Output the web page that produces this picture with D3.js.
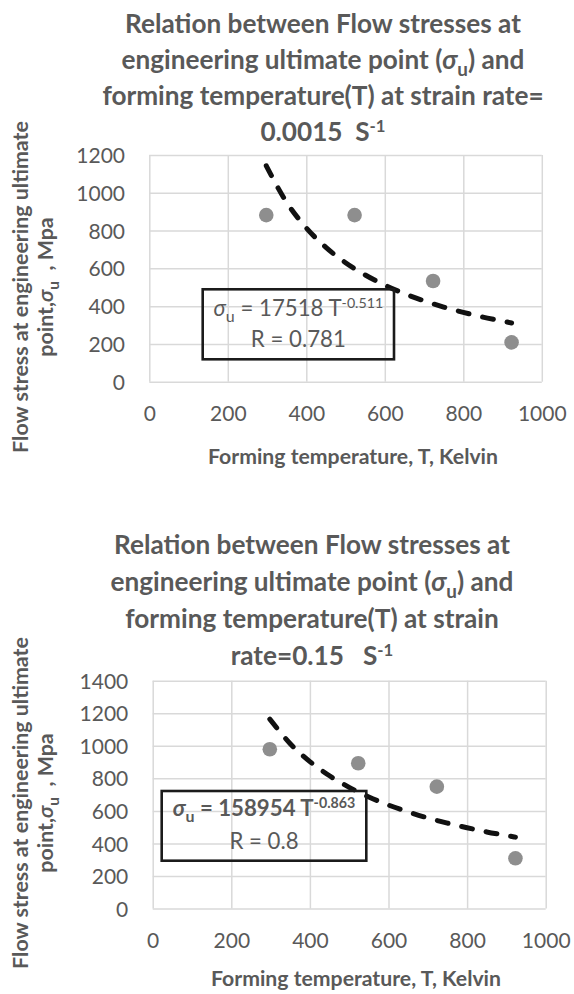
<!DOCTYPE html>
<html><head><meta charset="utf-8">
<script src="https://cdn.jsdelivr.net/npm/d3@7"></script>
<style>
body{margin:0;background:#fff;}
svg text{font-family:Lato,"Open Sans",sans-serif;fill:#595959;white-space:pre;}
</style></head><body>
<svg id="c" width="574" height="994"></svg>
<script>
// ---------- data ----------
const xTickValues = [0, 200, 400, 600, 800, 1000];
const yTickValues1 = [0, 200, 400, 600, 800, 1000, 1200];
const yTickValues2 = [0, 200, 400, 600, 800, 1000, 1200, 1400];

const temperature1 = [298, 523, 723, 923];
const flowStress1 = [882, 882, 533, 208];
const temperature2 = [298, 523, 723, 923];
const flowStress2 = [979, 893, 749, 309];

// trend lines
const trendTemperature = [298, 350, 400, 450, 500, 550, 600, 650, 700, 750, 800, 850, 900, 923];
const trendStress1 = [1143, 949, 814, 711, 630, 565, 511, 466, 428, 395, 367, 342, 321, 311];
const trendStress2 = [1164, 1013, 903, 816, 745, 686, 636, 594, 557, 525, 497, 471, 449, 439];

const titleLines1 = [
  [["Relation between Flow stresses at", ""]],
  [["engineering ultimate point (", ""], ["σ", "i"], ["u", "sub"], [") and", ""]],
  [["forming temperature(T) at strain rate=", ""]],
  [["0.0015  S", ""], ["-1", "sup"]]
];
const titleLines2 = [
  [["Relation between Flow stresses at", ""]],
  [["engineering ultimate point (", ""], ["σ", "i"], ["u", "sub"], [") and", ""]],
  [["forming temperature(T) at strain", ""]],
  [["rate=0.15   S", ""], ["-1", "sup"]]
];
const xAxisTitle = "Forming temperature, T, Kelvin";
const yAxisTitleLine1 = [["Flow stress at engineering ultimate", ""]];
const yAxisTitleLine2 = [["point,", ""], ["σ", "i"], ["u", "sub"], ["  , Mpa", ""]];
const equation1 = [["σ", "i"], ["u", "sub"], [" = 17518 T", ""], ["-0.511", "sup"]];
const rValue1 = "R = 0.781";
const equation2 = [["σ", "i"], ["u", "sub"], [" = 158954 T", ""], ["-0.863", "sup"]];
const rValue2 = "R = 0.8";

// ---------- helpers ----------
const svg = d3.select("#c");
const TXT = "#595959";

function measure(str, size, weight) {
  const t = svg.append("text").attr("font-size", size).attr("font-weight", weight).text(str);
  const w = t.node().getComputedTextLength();
  t.remove();
  return w;
}
function fit(str, weight, target) { return 100 * target / measure(str, 100, weight); }

function rich(sel, segs, size) {
  let shift = 0;
  segs.forEach(([txt, kind]) => {
    const ts = sel.append("tspan").text(txt);
    let target = 0, fs = size;
    if (kind === "sub") { target = size * 0.28; fs = size * 0.72; }
    if (kind === "sup") { target = -size * 0.36; fs = size * 0.64; }
    if (kind === "i") ts.attr("font-style", "italic");
    ts.attr("font-size", fs);
    if (target !== shift) { ts.attr("dy", target - shift); shift = target; }
  });
}

const titleSize = fit("Relation between Flow stresses at", "bold", 396);
const xTitleSize = fit(xAxisTitle, "bold", 290);
const yTitleSize = fit("Flow stress at engineering ultimate", "bold", 332);
const eqSize = fit(rValue1, "normal", 95);
const tickSize = 21;
const fmt = d3.format("d");

function drawChart(o) {
  const x = d3.scaleLinear().domain([0, 1000]).range([o.left, o.right]);
  const y = d3.scaleLinear().domain([0, o.yMax]).range([o.bottom, o.top]);
  const W = o.right - o.left, H = o.bottom - o.top;

  // gridlines
  const gy = svg.append("g").attr("transform", `translate(${o.left},0)`)
    .call(d3.axisLeft(y).tickValues(o.yTicks).tickSize(-W).tickFormat(""));
  gy.select(".domain").remove();
  gy.selectAll("line").attr("stroke", "#d9d9d9").attr("stroke-width", 1.5);
  const gx = svg.append("g").attr("transform", `translate(0,${o.bottom})`)
    .call(d3.axisBottom(x).tickValues(xTickValues).tickSize(-H).tickFormat(""));
  gx.select(".domain").remove();
  gx.selectAll("line").attr("stroke", "#d9d9d9").attr("stroke-width", 1.5);

  // tick labels
  const ya = svg.append("g").attr("transform", `translate(${o.left},0)`)
    .call(d3.axisLeft(y).tickValues(o.yTicks).tickFormat(fmt).tickSize(0).tickPadding(o.left - o.yLabelRight));
  ya.select(".domain").remove();
  ya.attr("font-family", null).attr("font-size", null);
  ya.selectAll("text").attr("font-size", tickSize).attr("fill", TXT).attr("dy", "0.36em");

  const xa = svg.append("g").attr("transform", `translate(0,${o.bottom})`)
    .call(d3.axisBottom(x).tickValues(xTickValues).tickFormat(fmt).tickSize(0));
  xa.select(".domain").remove();
  xa.attr("font-family", null).attr("font-size", null);
  xa.selectAll("text").attr("font-size", tickSize).attr("fill", TXT)
    .attr("y", o.xLabelBase - o.bottom).attr("dy", 0);

  // trend line
  const line = d3.line().x((d, i) => x(trendTemperature[i])).y(d => y(d)).curve(d3.curveMonotoneX);
  svg.append("path").datum(o.trend).attr("d", line)
    .attr("fill", "none").attr("stroke", "#111").attr("stroke-width", 5)
    .attr("stroke-dasharray", "11,14").attr("stroke-linecap", "round");

  // points
  svg.append("g").selectAll("circle").data(o.temps).join("circle")
    .attr("cx", d => x(d)).attr("cy", (d, i) => y(o.stress[i])).attr("r", 7.3)
    .attr("fill", "#8e8e8e");

  // equation box
  svg.append("rect").attr("x", o.box[0]).attr("y", o.box[1])
    .attr("width", o.box[2] - o.box[0]).attr("height", o.box[3] - o.box[1])
    .attr("fill", "none").attr("stroke", "#1b1b1b").attr("stroke-width", 2.6);
  const cx = (o.box[0] + o.box[2]) / 2;
  const e1 = svg.append("text").attr("x", cx).attr("y", o.eqBase[0]).attr("text-anchor", "middle")
    .attr("font-weight", o.eqBold ? "bold" : "normal");
  rich(e1, o.eq, eqSize);
  svg.append("text").attr("x", cx).attr("y", o.eqBase[1]).attr("text-anchor", "middle")
    .attr("font-size", eqSize).text(o.r);

  // title
  o.title.forEach((segs, i) => {
    const t = svg.append("text").attr("x", o.titleX).attr("y", o.titleBase + i * o.titleStep)
      .attr("text-anchor", "middle").attr("font-weight", "bold");
    rich(t, segs, titleSize);
  });

  // x axis title
  svg.append("text").attr("x", o.xTitleX).attr("y", o.xTitleBase).attr("text-anchor", "middle")
    .attr("font-weight", "bold").attr("font-size", xTitleSize).text(xAxisTitle);

  // y axis title
  const y1 = svg.append("text").attr("transform", `translate(28,${o.yTitleY}) rotate(-90)`)
    .attr("text-anchor", "middle").attr("font-weight", "bold");
  rich(y1, yAxisTitleLine1, yTitleSize);
  const y2 = svg.append("text").attr("transform", `translate(53,${o.yTitleY}) rotate(-90)`)
    .attr("text-anchor", "middle").attr("font-weight", "bold");
  rich(y2, yAxisTitleLine2, yTitleSize);
}

drawChart({
  left: 149.3, right: 541.8, top: 155, bottom: 381.7, yMax: 1200, yTicks: yTickValues1,
  yLabelRight: 125, xLabelBase: 421,
  temps: temperature1, stress: flowStress1, trend: trendStress1,
  box: [202.7, 289.3, 394, 359.3], eq: equation1, r: rValue1, eqBold: false, eqBase: [316, 347],
  title: titleLines1, titleX: 323, titleBase: 33, titleStep: 36,
  xTitleX: 353, xTitleBase: 463.5, yTitleY: 287
});
drawChart({
  left: 152.7, right: 545.7, top: 680.7, bottom: 908.6, yMax: 1400, yTicks: yTickValues2,
  yLabelRight: 128.3, xLabelBase: 948,
  temps: temperature2, stress: flowStress2, trend: trendStress2,
  box: [161.7, 791, 366.3, 860.7], eq: equation2, r: rValue2, eqBold: true, eqBase: [816, 849],
  title: titleLines2, titleX: 312, titleBase: 554, titleStep: 37,
  xTitleX: 356, xTitleBase: 986, yTitleY: 803
});
</script>
</body></html>
